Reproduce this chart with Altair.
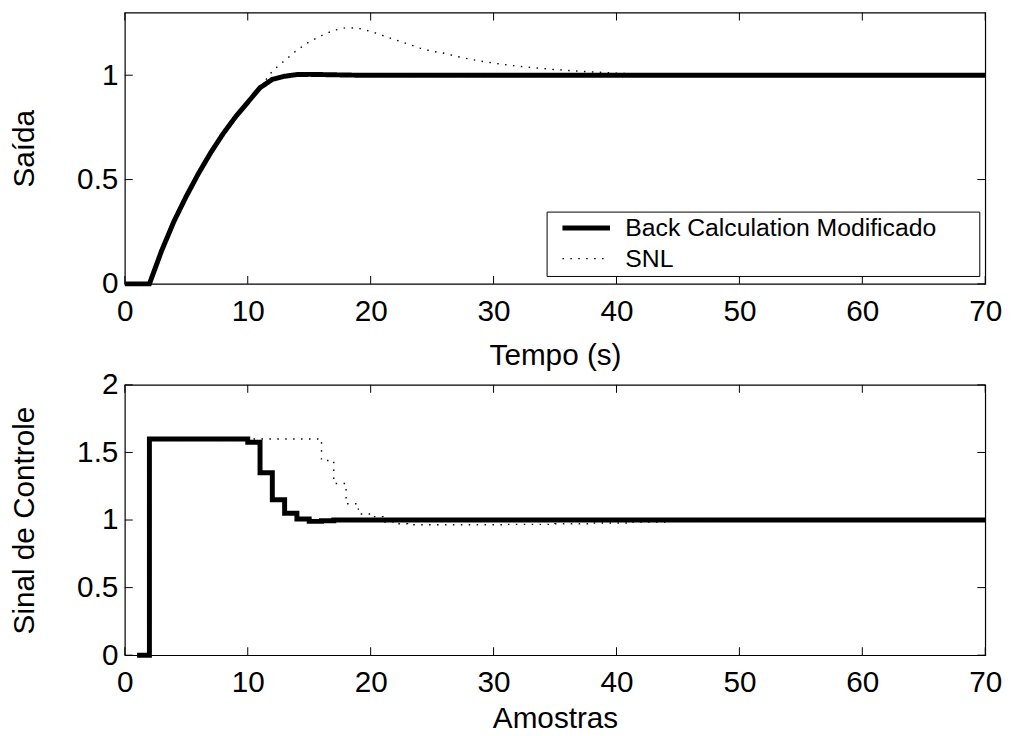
import altair as alt
import pandas as pd

FONT = "Liberation Sans"

series_names = ["Back Calculation Modificado", "SNL"]

# ---- top panel: Saída vs Tempo (s) ----
t_top = list(range(0, 71))
bc_out = [0, 0, 0, 0.16, 0.30, 0.42, 0.53, 0.63, 0.72, 0.80, 0.87, 0.94, 0.98, 0.995, 1.003,
          1.004, 1.003, 1.002, 1.001, 1.0, 1.0, 1.0, 1.0, 1.0, 1.0, 1.0, 1.0, 1.0, 1.0, 1.0,
          1.0, 1.0, 1.0, 1.0, 1.0, 1.0, 1.0, 1.0, 1.0, 1.0, 1.0, 1.0, 1.0, 1.0, 1.0,
          1.0, 1.0, 1.0, 1.0, 1.0, 1.0, 1.0, 1.0, 1.0, 1.0, 1.0, 1.0, 1.0, 1.0, 1.0,
          1.0, 1.0, 1.0, 1.0, 1.0, 1.0, 1.0, 1.0, 1.0, 1.0, 1.0]
snl_out = [0, 0, 0, 0.16, 0.30, 0.42, 0.53, 0.63, 0.72, 0.80, 0.87, 0.94,
           1.02, 1.07, 1.12, 1.16, 1.19, 1.215, 1.228, 1.225, 1.21, 1.19, 1.17, 1.15, 1.13,
           1.115, 1.105, 1.09, 1.078, 1.067, 1.058, 1.05, 1.043, 1.037, 1.032, 1.027, 1.023,
           1.019, 1.016, 1.013, 1.010, 1.008, 1.006, 1.004, 1.003, 1.002,
           1.0, 1.0, 1.0, 1.0, 1.0, 1.0, 1.0, 1.0, 1.0, 1.0, 1.0, 1.0, 1.0, 1.0,
           1.0, 1.0, 1.0, 1.0, 1.0, 1.0, 1.0, 1.0, 1.0, 1.0, 1.0]

# ---- bottom panel: Sinal de Controle vs Amostras ----
t_bot = list(range(1, 71))
bc_ctrl = [0, 1.6, 1.6, 1.6, 1.6, 1.6, 1.6, 1.6, 1.6, 1.575, 1.35, 1.15, 1.05, 1.008, 0.99,
           0.995, 1.0, 1.0, 1.0, 1.0, 1.0, 1.0, 1.0, 1.0, 1.0, 1.0, 1.0, 1.0, 1.0, 1.0,
           1.0, 1.0, 1.0, 1.0, 1.0, 1.0, 1.0, 1.0, 1.0, 1.0, 1.0, 1.0, 1.0, 1.0, 1.0,
           1.0, 1.0, 1.0, 1.0, 1.0, 1.0, 1.0, 1.0, 1.0, 1.0, 1.0, 1.0, 1.0, 1.0, 1.0,
           1.0, 1.0, 1.0, 1.0, 1.0, 1.0, 1.0, 1.0, 1.0, 1.0]
snl_ctrl = [0, 1.6, 1.6, 1.6, 1.6, 1.6, 1.6, 1.6, 1.6, 1.6, 1.6, 1.6, 1.6, 1.6, 1.6,
            1.44, 1.27, 1.12, 1.045, 1.025, 0.985, 0.972,
            0.965, 0.965, 0.965, 0.965, 0.965, 0.965, 0.965, 0.965,
            0.968, 0.968, 0.968, 0.968, 0.972, 0.972, 0.972, 0.978, 0.978, 0.978,
            0.985, 0.985, 0.985, 0.992, 0.992, 0.992,
            1.0, 1.0, 1.0, 1.0, 1.0, 1.0, 1.0, 1.0, 1.0, 1.0, 1.0, 1.0,
            1.0, 1.0, 1.0, 1.0, 1.0, 1.0, 1.0, 1.0, 1.0, 1.0, 1.0, 1.0]

x_ticks = [0, 10, 20, 30, 40, 50, 60, 70]
y_ticks_top = [0, 0.5, 1]
y_ticks_bot = [0, 0.5, 1, 1.5, 2]

W = 869
H_TOP = 274
H_BOT = 273
TICK = 8

top_df = pd.concat([
    pd.DataFrame({"t": t_top, "v": bc_out, "serie": series_names[0]}),
    pd.DataFrame({"t": t_top, "v": snl_out, "serie": series_names[1]}),
])
bot_df = pd.concat([
    pd.DataFrame({"t": t_bot, "v": bc_ctrl, "serie": series_names[0]}),
    pd.DataFrame({"t": t_bot, "v": snl_ctrl, "serie": series_names[1]}),
])

# legend box: an invisible (white on white) title to the right pads the box width
legend = alt.Legend(
    title=".", titleOrient="right", titleFontSize=10, titleColor="white",
    titlePadding=36, titleFont=FONT,
    orient="none", legendX=426, legendY=201,
    direction="vertical",
    labelFont=FONT, labelFontSize=25, labelColor="black", labelLimit=1000,
    symbolType="M-3,0H3", symbolSize=256, symbolStrokeColor="black",
    symbolFillColor="transparent",
    symbolOffset=23.5, labelOffset=27, rowPadding=5,
    padding=4, strokeColor="black", fillColor="white",
)


def panel(df, ydom, yticks, height, xtitle, ytitle, interp, xlabpad, xtitlepad):
    xscale = alt.Scale(domain=[0, 70], nice=False, zero=False)
    yscale = alt.Scale(domain=ydom, nice=False, zero=False)
    lines = alt.Chart(df).mark_line(
        interpolate=interp, strokeCap="butt", strokeJoin="miter", color="black"
    ).encode(
        x=alt.X("t:Q", scale=xscale, title=xtitle,
                axis=alt.Axis(values=x_ticks, ticks=False, domain=False, grid=False,
                              labelPadding=xlabpad, titlePadding=xtitlepad,
                              labelFlush=False, format="~g")),
        y=alt.Y("v:Q", scale=yscale, title=ytitle,
                axis=alt.Axis(values=yticks, ticks=False, domain=False, grid=False,
                              labelPadding=7, titlePadding=38, format="~g",
                              labelFlush=False)),
        strokeDash=alt.StrokeDash("serie:N", scale=alt.Scale(domain=series_names,
                                  range=[[1, 0], [1.5, 6.5]]), legend=legend),
        strokeWidth=alt.StrokeWidth("serie:N", scale=alt.Scale(domain=series_names,
                                    range=[5, 1.4]), legend=legend),
        order=alt.Order("serie:N"),
    )
    xt = pd.DataFrame({"t": x_ticks})
    yt = pd.DataFrame({"v": yticks})
    xb = alt.Chart(xt).mark_rule(color="black", strokeWidth=1).encode(
        x=alt.X("t:Q", scale=xscale),
        y=alt.value(height), y2=alt.value(height - TICK))
    xtop = alt.Chart(xt).mark_rule(color="black", strokeWidth=1).encode(
        x=alt.X("t:Q", scale=xscale),
        y=alt.value(0), y2=alt.value(TICK))
    yl = alt.Chart(yt).mark_rule(color="black", strokeWidth=1).encode(
        y=alt.Y("v:Q", scale=yscale),
        x=alt.value(0), x2=alt.value(TICK))
    yr = alt.Chart(yt).mark_rule(color="black", strokeWidth=1).encode(
        y=alt.Y("v:Q", scale=yscale),
        x=alt.value(W), x2=alt.value(W - TICK))
    return alt.layer(lines, xb, xtop, yl, yr).properties(width=W, height=height)


top = panel(top_df, [0, 1.3], y_ticks_top, H_TOP, "Tempo (s)", "Saída", "linear", 13, 14)
bot = panel(bot_df, [0, 2], y_ticks_bot, H_BOT, "Amostras", "Sinal de Controle",
            "step-after", 13, 6)

chart = alt.vconcat(top, bot, spacing=102, bounds="flush").properties(
    padding={"left": 0, "top": -1, "right": 5, "bottom": 0},
    background="white",
).configure_view(
    stroke="black", strokeWidth=1.2
).configure_axis(
    labelFont=FONT, titleFont=FONT, labelFontSize=30, titleFontSize=30,
    labelColor="black", titleColor="black", titleFontWeight="normal",
)

chart.save("out.html", embed_options={"renderer": "svg", "actions": False})
